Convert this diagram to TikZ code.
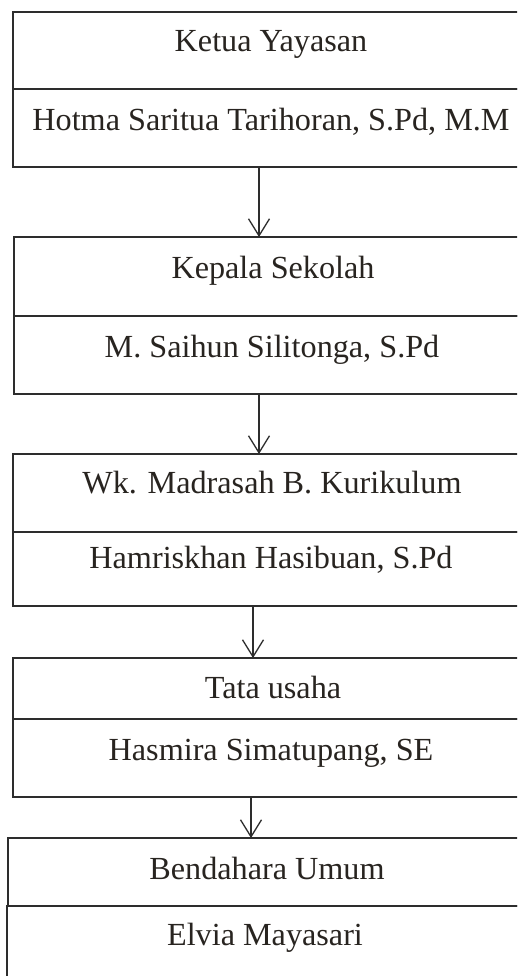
\documentclass[tikz,border=0pt]{standalone}
\usepackage{fontspec}
\setmainfont{Liberation Serif}
\usetikzlibrary{arrows.meta}
\definecolor{ink}{RGB}{40,36,32}
\definecolor{edge}{RGB}{45,45,45}
\tikzset{
  cell/.style={draw=edge, line width=1.3pt, rectangle, inner sep=0pt, outer sep=0pt, minimum width=560pt},
  lbl/.style={anchor=base, inner sep=0pt, text=ink, font=\fontsize{32.2}{36}\selectfont},
  link/.style={draw=edge, line width=1.3pt, -{Straight Barb[length=17pt,width=21pt,line width=1.3pt]}}
}
\begin{document}
\begin{tikzpicture}[x=1pt,y=-1pt]
\useasboundingbox (0,0) rectangle (517,976);
\clip (0,0) rectangle (517,976);
\fill[white] (0,0) rectangle (517,976);
% boxes
\node[cell, minimum height=77pt] (b1t) at (293,50.5) {};
\node[cell, minimum height=78pt] (b1b) at (293,128) {};
\node[cell, minimum height=79pt] (b2t) at (294,276.5) {};
\node[cell, minimum height=78pt] (b2b) at (294,355) {};
\draw[edge, line width=2.4pt] (b2t.south west) -- (b2t.south east);
\node[cell, minimum height=78pt] (b3t) at (293,493) {};
\node[cell, minimum height=74pt] (b3b) at (293,569) {};
\node[cell, minimum height=61pt] (b4t) at (293,688.5) {};
\node[cell, minimum height=78pt] (b4b) at (293,758) {};
\node[cell, minimum height=68pt] (b5t) at (288,872) {};
\node[cell, minimum height=84pt] (b5b) at (287,948) {};
% texts
\node[lbl] (t1t) at (271,52) {Ketua Yayasan};
\node[lbl] (t1b) at (271,131) {Hotma Saritua Tarihoran, S.Pd, M.M};
\node[lbl] (t2t) at (273,278) {Kepala Sekolah};
\node[lbl] (t2b) at (272,357) {M. Saihun Silitonga, S.Pd};
\node[lbl] (t3t) at (272,493) {Wk. Madrasah B. Kurikulum};
\node[lbl] (t3b) at (271,568) {Hamriskhan Hasibuan, S.Pd};
\node[lbl] (t4t) at (273,698) {Tata usaha};
\node[lbl] (t4b) at (271,760) {Hasmira Simatupang, SE};
\node[lbl] (t5t) at (267,879) {Bendahara Umum};
\node[lbl] (t5b) at (265,945) {Elvia Mayasari};
% connectors
\draw[link] (b1b.south -| 259,0) -- (b2t.north -| 259,0);
\draw[link] (b2b.south -| 259,0) -- (b3t.north -| 259,0);
\draw[link] (b3b.south -| 253,0) -- (b4t.north -| 253,0);
\draw[link] (b4b.south -| 251,0) -- (b5t.north -| 251,0);
\end{tikzpicture}
\end{document}
